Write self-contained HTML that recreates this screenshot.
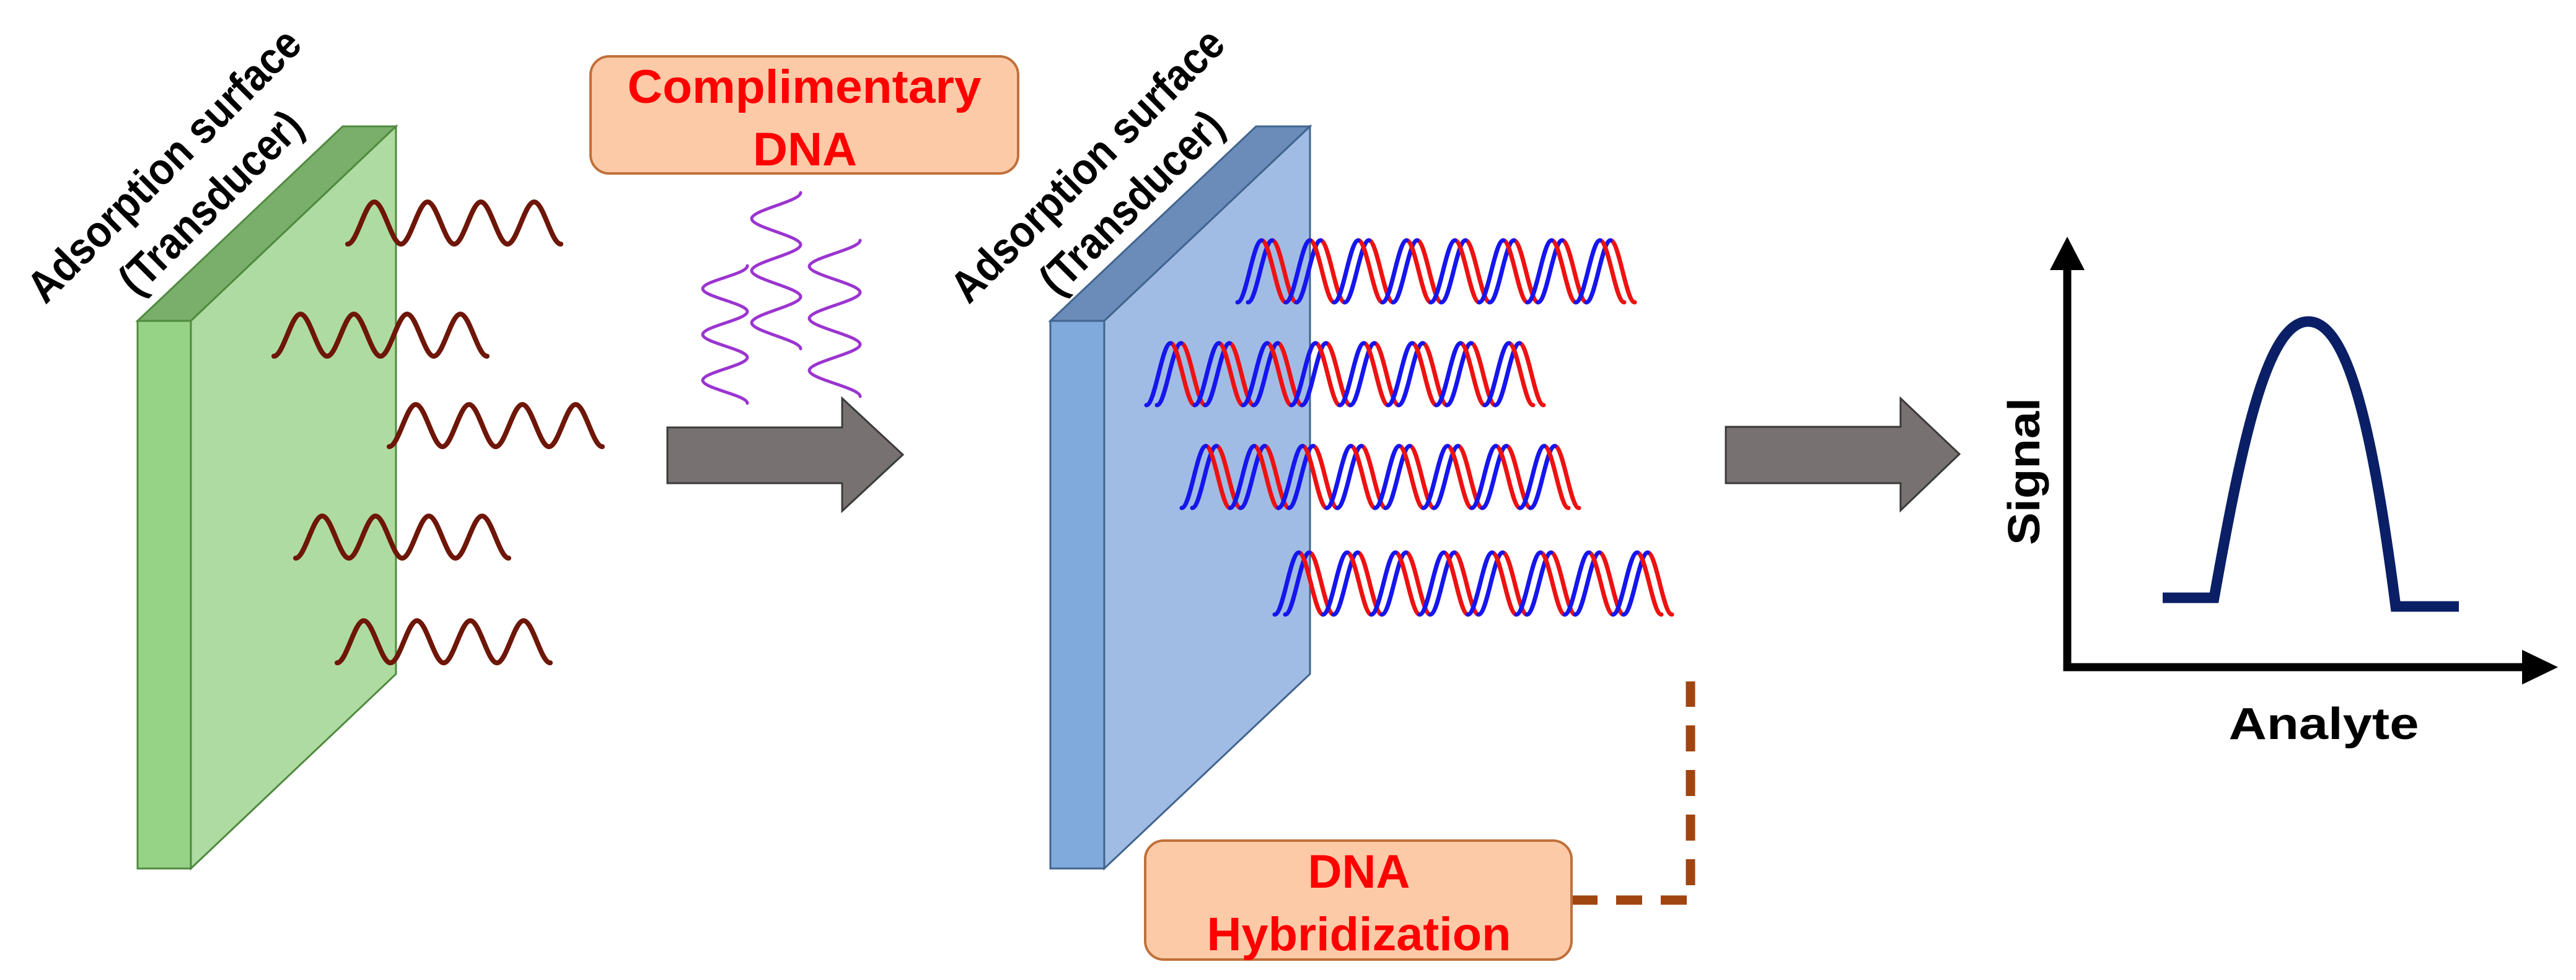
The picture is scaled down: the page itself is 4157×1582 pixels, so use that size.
<!DOCTYPE html>
<html><head><meta charset="utf-8"><style>
html,body{margin:0;padding:0;background:#fff;}
svg{display:block;}
text{font-family:"Liberation Sans",sans-serif;font-weight:bold;}
</style></head><body>
<svg width="4157" height="1582" viewBox="0 0 4157 1582" xmlns="http://www.w3.org/2000/svg">
<rect width="4157" height="1582" fill="#fff"/>

<!-- Green slab -->
<polygon points="222,518 553,204 639,204 308,518" fill="#7aae6b" stroke="#4f8a3e" stroke-width="3"/>
<polygon points="308,518 639,204 639,1088 308,1402" fill="#aedba1" stroke="#4f8a3e" stroke-width="3"/>
<rect x="222" y="518" width="86" height="884" fill="#97d386" stroke="#4f8a3e" stroke-width="3"/>
<text transform="translate(265,267) rotate(-45)" text-anchor="middle" dominant-baseline="central" font-size="72" textLength="590" lengthAdjust="spacingAndGlyphs" fill="#000">Adsorption surface</text>
<text transform="translate(340,327) rotate(-45)" text-anchor="middle" dominant-baseline="central" font-size="72" textLength="385" lengthAdjust="spacingAndGlyphs" fill="#000">(Transducer)</text>

<!-- Brown waves -->
<g fill="none" stroke="#6e1608" stroke-width="8" stroke-linecap="round">
<path d="M561,394 c15,0 28,-68 43,-68 s28,68 43,68 s28,-68 43,-68 s28,68 43,68 s28,-68 43,-68 s28,68 43,68 s28,-68 43,-68 s28,68 43,68"/>
<path d="M442,575 c15,0 28,-68 43,-68 s28,68 43,68 s28,-68 43,-68 s28,68 43,68 s28,-68 43,-68 s28,68 43,68 s28,-68 43,-68 s28,68 43,68"/>
<path d="M628,721 c15,0 28,-68 43,-68 s28,68 43,68 s28,-68 43,-68 s28,68 43,68 s28,-68 43,-68 s28,68 43,68 s28,-68 43,-68 s28,68 43,68"/>
<path d="M477,901 c15,0 28,-68 43,-68 s28,68 43,68 s28,-68 43,-68 s28,68 43,68 s28,-68 43,-68 s28,68 43,68 s28,-68 43,-68 s28,68 43,68"/>
<path d="M544,1070 c15,0 28,-68 43,-68 s28,68 43,68 s28,-68 43,-68 s28,68 43,68 s28,-68 43,-68 s28,68 43,68 s28,-68 43,-68 s28,68 43,68"/>
</g>

<!-- Complimentary DNA box -->
<rect x="953" y="91" width="690" height="189" rx="30" fill="#fdcaa8" stroke="#c0703a" stroke-width="4"/>
<text x="1298" y="166" text-anchor="middle" font-size="76" fill="#ff0000" textLength="571" lengthAdjust="spacingAndGlyphs">Complimentary</text>
<text x="1299" y="267" text-anchor="middle" font-size="76" fill="#ff0000" textLength="168" lengthAdjust="spacingAndGlyphs">DNA</text>

<!-- Purple coils -->
<g fill="none" stroke="#9b34d0" stroke-width="5" stroke-linecap="round">
<path d="M1206,429 c0,14 -72,24 -72,37 s72,24 72,37 s-72,24 -72,37 s72,24 72,37 s-72,24 -72,37 s72,24 72,37"/>
<path d="M1292,311 c0,14 -79,28 -79,42 s79,28 79,42 s-79,28 -79,42 s79,28 79,42 s-79,28 -79,42 s79,28 79,42"/>
<path d="M1388,388 c0,14 -82,28 -82,42 s82,28 82,42 s-82,28 -82,42 s82,28 82,42 s-82,28 -82,42 s82,28 82,42"/>
</g>

<!-- Arrow 1 -->
<polygon points="1077,690 1359,690 1359,643 1457,734 1359,825 1359,780 1077,780" fill="#777271" stroke="#3a3a3a" stroke-width="3"/>

<!-- Blue slab -->
<polygon points="1695,518 2027,204 2114,204 1782,518" fill="#6b8cb8" stroke="#41648f" stroke-width="3"/>
<polygon points="1782,518 2114,204 2114,1088 1782,1402" fill="#a0bce5" stroke="#41648f" stroke-width="3"/>
<rect x="1695" y="518" width="87" height="884" fill="#80a9dc" stroke="#41648f" stroke-width="3"/>
<text transform="translate(1755,267) rotate(-45)" text-anchor="middle" dominant-baseline="central" font-size="72" textLength="590" lengthAdjust="spacingAndGlyphs" fill="#000">Adsorption surface</text>
<text transform="translate(1826,327) rotate(-45)" text-anchor="middle" dominant-baseline="central" font-size="72" textLength="385" lengthAdjust="spacingAndGlyphs" fill="#000">(Transducer)</text>

<!-- DNA helices -->
<defs>
<path id="up" d="M0,0 c14,0 25,-100 39,-100 M78,0 c14,0 25,-100 39,-100 M156,0 c14,0 25,-100 39,-100 M234,0 c14,0 25,-100 39,-100 M312,0 c14,0 25,-100 39,-100 M390,0 c14,0 25,-100 39,-100 M468,0 c14,0 25,-100 39,-100 M546,0 c14,0 25,-100 39,-100"/>
<path id="dn" d="M39,-100 c14,0 25,100 39,100 M117,-100 c14,0 25,100 39,100 M195,-100 c14,0 25,100 39,100 M273,-100 c14,0 25,100 39,100 M351,-100 c14,0 25,100 39,100 M429,-100 c14,0 25,100 39,100 M507,-100 c14,0 25,100 39,100 M585,-100 c14,0 25,100 39,100"/>
<g id="hx">
<use href="#dn" stroke="#ee1111" x="17"/><use href="#up" stroke="#1515ee" x="17"/>
<use href="#dn" stroke="#ee1111"/><use href="#up" stroke="#1515ee"/>
</g>
</defs>
<g fill="none" stroke-width="7" stroke-linecap="round">
<use href="#hx" transform="translate(1997,488)"/>
<use href="#hx" transform="translate(1850,654)"/>
<use href="#hx" transform="translate(1907,820)"/>
<use href="#hx" transform="translate(2057,992)"/>
</g>

<!-- Hybridization box + connector -->
<path d="M2536,1453 H2728 V1100" fill="none" stroke="#a0450f" stroke-width="15" stroke-dasharray="42,30"/>
<rect x="1848" y="1357" width="688" height="192" rx="30" fill="#fdcaa8" stroke="#c0703a" stroke-width="4"/>
<text x="2193" y="1433" text-anchor="middle" font-size="76" fill="#ff0000" textLength="165" lengthAdjust="spacingAndGlyphs">DNA</text>
<text x="2193" y="1534" text-anchor="middle" font-size="76" fill="#ff0000" textLength="491" lengthAdjust="spacingAndGlyphs">Hybridization</text>

<!-- Arrow 2 -->
<polygon points="2785,689 3067,689 3067,643 3162,733 3067,824 3067,780 2785,780" fill="#777271" stroke="#3a3a3a" stroke-width="3"/>

<!-- Graph -->
<g stroke="#000" stroke-width="13" fill="none">
<path d="M3336,430 V1077 H4075"/>
</g>
<polygon points="3336,382 3308,436 3364,436" fill="#000"/>
<polygon points="4128,1077 4070,1049 4070,1105" fill="#000"/>
<path d="M3490,965 H3573 C3620,700 3660,519 3725,519 C3790,519 3830,700 3866,979 H3968" fill="none" stroke="#0a1f66" stroke-width="17"/>
<text transform="translate(3267,761) rotate(-90)" text-anchor="middle" dominant-baseline="central" font-size="72" textLength="238" lengthAdjust="spacingAndGlyphs" fill="#000">Signal</text>
<text x="3750" y="1193" text-anchor="middle" font-size="72" textLength="307" lengthAdjust="spacingAndGlyphs" fill="#000">Analyte</text>
</svg>
</body></html>
